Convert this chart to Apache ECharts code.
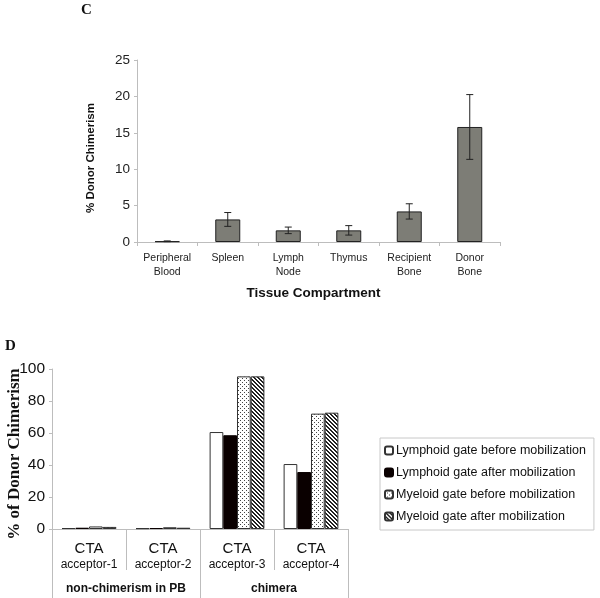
<!DOCTYPE html>
<html>
<head>
<meta charset="utf-8">
<script src="https://cdn.jsdelivr.net/npm/echarts@6/dist/echarts.min.js"></script>
<style>html,body{margin:0;padding:0;background:#fff}#c{width:600px;height:598px}</style>
</head>
<body>
<div id="c"></div>
<script>
// Panel C data
var tissues = ['Peripheral\nBlood', 'Spleen', 'Lymph\nNode', 'Thymus', 'Recipient\nBone', 'Donor\nBone'];
var chimerismMean = [0.1, 3.1, 1.6, 1.6, 4.2, 15.8];
var chimerismErr = [0.05, 0.95, 0.45, 0.65, 1.05, 4.45];
var yTicksC = [0, 5, 10, 15, 20, 25];

// Panel D data
var acceptors = ['CTA\nacceptor-1', 'CTA\nacceptor-2', 'CTA\nacceptor-3', 'CTA\nacceptor-4'];
var groupsD = ['non-chimerism in PB', 'chimera'];
var seriesNames = ['Lymphoid gate before mobilization', 'Lymphoid gate after mobilization', 'Myeloid gate before mobilization', 'Myeloid gate after mobilization'];
var lymphBefore = [0.6, 0.5, 60.6, 40.6];
var lymphAfter = [0.8, 0.6, 58.6, 35.6];
var myeloBefore = [1.6, 1.1, 95.4, 72.1];
var myeloAfter = [1.3, 0.8, 95.4, 72.7];
var yTicksD = [0, 20, 40, 60, 80, 100];

function dotPattern() {
  var c = document.createElement('canvas'); c.width = 4; c.height = 4;
  var g = c.getContext('2d');
  g.fillStyle = '#fff'; g.fillRect(0, 0, 4, 4);
  g.fillStyle = '#444'; g.fillRect(0, 0, 1, 1); g.fillRect(2, 2, 1, 1);
  return c;
}
function hatchPattern() {
  var c = document.createElement('canvas'); c.width = 4; c.height = 4;
  var g = c.getContext('2d');
  g.fillStyle = '#fff'; g.fillRect(0, 0, 4, 4);
  g.fillStyle = '#222';
  for (var i = 0; i < 4; i++) { g.fillRect(i, i, 1, 1); g.fillRect((i + 1) % 4, i, 1, 1); }
  return c;
}

var chart = echarts.init(document.getElementById('c'), null, {renderer: 'canvas'});
var axisGray = '#bdbdbd';
var font = 'Liberation Sans, Arial, sans-serif';

var option = {
  animation: false,
  backgroundColor: '#fff',
  textStyle: {fontFamily: font},
  title: [
    {text: 'C', left: 76, top: -2, textStyle: {fontFamily: 'Liberation Serif, Times New Roman, serif', fontWeight: 'bold', fontSize: 15, color: '#111'}},
    {text: 'D', left: 0, top: 334, textStyle: {fontFamily: 'Liberation Serif, Times New Roman, serif', fontWeight: 'bold', fontSize: 15, color: '#111'}}
  ],
  grid: [
    {left: 137, top: 60, width: 363, height: 182},
    {left: 52, top: 369, width: 296, height: 160}
  ],
  legend: {
    orient: 'vertical', left: 380, top: 438,
    padding: [6, 8, 7, 4],
    itemWidth: 8, itemHeight: 8, itemGap: 9,
    borderColor: '#c8c8c8', borderWidth: 1,
    textStyle: {fontSize: 12.5, color: '#111', fontFamily: font, padding: [0, 0, 0, -2]},
    data: seriesNames
  },
  xAxis: [
    {
      type: 'category', gridIndex: 0, data: tissues,
      axisLine: {show: true, lineStyle: {color: axisGray}},
      axisTick: {show: true, length: 4, interval: 0, lineStyle: {color: axisGray}},
      axisLabel: {fontSize: 10.5, color: '#222', lineHeight: 14, margin: 9, interval: 0},
      name: 'Tissue Compartment', nameLocation: 'middle', nameGap: 44,
      nameTextStyle: {fontSize: 13.5, fontWeight: 'bold', color: '#111', padding: [0, 10, 0, 0]}
    },
    {
      type: 'category', gridIndex: 1, data: acceptors,
      axisLine: {show: true, lineStyle: {color: axisGray}},
      axisTick: {show: true, length: 41, interval: 0, lineStyle: {color: axisGray}},
      axisLabel: {
        interval: 0, margin: 11,
        formatter: function (v) { var p = v.split('\n'); return '{a|' + p[0] + '}\n{b|' + p[1] + '}'; },
        rich: {a: {fontSize: 15, lineHeight: 17, color: '#111'}, b: {fontSize: 12, lineHeight: 15, color: '#111'}}
      }
    },
    {
      type: 'category', gridIndex: 1, data: groupsD, position: 'bottom', offset: 69,
      axisLine: {show: true, lineStyle: {color: '#fff', width: 0}},
      axisTick: {show: true, inside: true, interval: 0, length: 69, lineStyle: {color: axisGray}},
      axisLabel: {inside: true, interval: 0, showMinLabel: true, showMaxLabel: true, hideOverlap: false, margin: 3, fontSize: 12, fontWeight: 'bold', color: '#111'}
    }
  ],
  yAxis: [
    {
      type: 'value', gridIndex: 0, min: yTicksC[0], max: yTicksC[yTicksC.length - 1], interval: 5,
      axisLine: {show: true, lineStyle: {color: axisGray}},
      axisTick: {show: true, length: 3, lineStyle: {color: axisGray}},
      splitLine: {show: false},
      axisLabel: {fontSize: 13.5, color: '#222', margin: 7},
      name: '% Donor Chimerism', nameLocation: 'middle', nameGap: 40, nameMoveOverlap: false,
      nameTextStyle: {fontSize: 11.5, fontWeight: 'bold', color: '#111', padding: [0, 14, 0, 0]}
    },
    {
      type: 'value', gridIndex: 1, min: yTicksD[0], max: yTicksD[yTicksD.length - 1], interval: 20,
      axisLine: {show: true, lineStyle: {color: axisGray}},
      axisTick: {show: true, length: 3, lineStyle: {color: axisGray}},
      splitLine: {show: false},
      axisLabel: {fontSize: 15.5, color: '#111', margin: 7},
      name: '% of Donor Chimerism', nameLocation: 'middle', nameGap: 29, nameMoveOverlap: false,
      nameTextStyle: {fontFamily: 'Liberation Serif, Times New Roman, serif', fontSize: 17, fontWeight: 'bold', color: '#111', padding: [0, 10, 0, 0]}
    }
  ],
  series: [
    {
      type: 'bar', xAxisIndex: 0, yAxisIndex: 0, data: chimerismMean, barWidth: 25,
      itemStyle: {color: '#7d7d76', borderColor: '#222', borderWidth: 1}
    },
    {
      type: 'custom', xAxisIndex: 0, yAxisIndex: 0, z: 5,
      data: chimerismMean.map(function (m, i) { return [i, m - chimerismErr[i], m + chimerismErr[i]]; }),
      renderItem: function (params, api) {
        var lo = api.coord([api.value(0), api.value(1)]);
        var hi = api.coord([api.value(0), api.value(2)]);
        var hw = 3.5;
        var st = {stroke: '#222', lineWidth: 1};
        return {type: 'group', children: [
          {type: 'line', shape: {x1: lo[0], y1: lo[1], x2: hi[0], y2: hi[1]}, style: st},
          {type: 'line', shape: {x1: lo[0] - hw, y1: lo[1], x2: lo[0] + hw, y2: lo[1]}, style: st},
          {type: 'line', shape: {x1: hi[0] - hw, y1: hi[1], x2: hi[0] + hw, y2: hi[1]}, style: st}
        ]};
      }
    },
    {
      name: seriesNames[0], type: 'bar', xAxisIndex: 1, yAxisIndex: 1, data: lymphBefore,
      barGap: 0, barCategoryGap: '26%',
      itemStyle: {color: '#fff', borderColor: '#333', borderWidth: 1}
    },
    {
      name: seriesNames[1], type: 'bar', xAxisIndex: 1, yAxisIndex: 1, data: lymphAfter,
      barGap: 0, barCategoryGap: '26%',
      itemStyle: {color: '#0a0000', borderColor: '#0a0000', borderWidth: 1}
    },
    {
      name: seriesNames[2], type: 'bar', xAxisIndex: 1, yAxisIndex: 1, data: myeloBefore,
      barGap: 0, barCategoryGap: '26%',
      itemStyle: {color: {image: dotPattern(), repeat: 'repeat'}, borderColor: '#333', borderWidth: 1}
    },
    {
      name: seriesNames[3], type: 'bar', xAxisIndex: 1, yAxisIndex: 1, data: myeloAfter,
      barGap: 0, barCategoryGap: '26%',
      itemStyle: {color: {image: hatchPattern(), repeat: 'repeat'}, borderColor: '#333', borderWidth: 1}
    }
  ]
};
chart.setOption(option);
</script>
</body>
</html>
